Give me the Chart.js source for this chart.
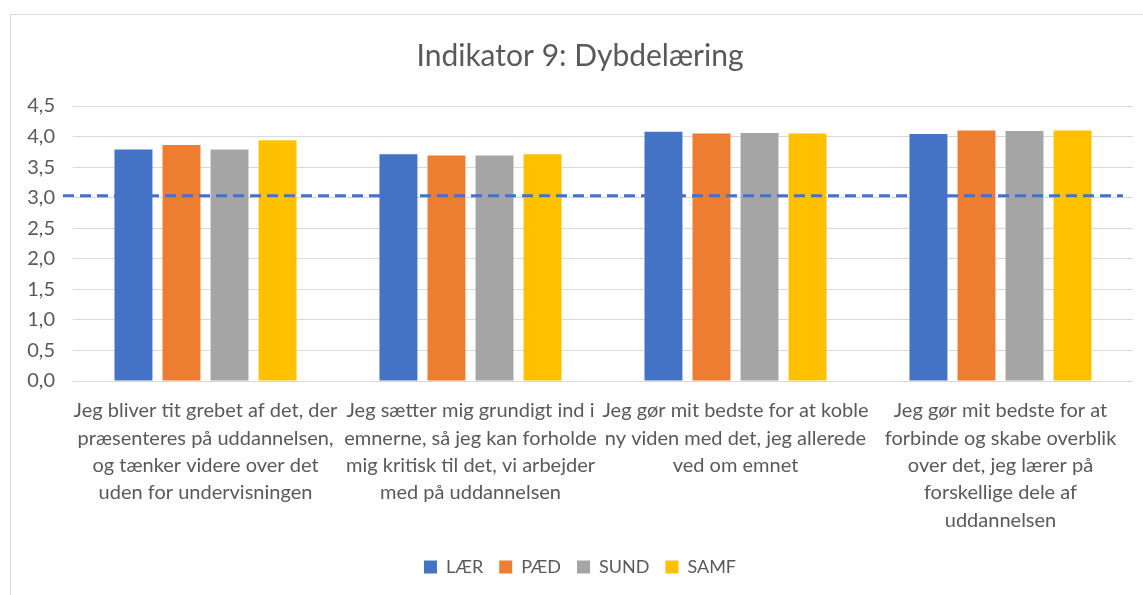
<!DOCTYPE html>
<html lang="da">
<head>
<meta charset="UTF-8">
<title>Indikator 9: Dybdelæring</title>
<script src="https://cdn.jsdelivr.net/npm/chart.js"></script>
<style>
  html, body { margin: 0; padding: 0; background: #fff; }
  #wrap {
    position: absolute; left: 10px; top: 14px;
    width: 1133px; height: 581px;
    border-left: 1px solid #d9d9d9; border-top: 1px solid #d9d9d9;
  }
</style>
</head>
<body>
<div id="wrap"><canvas id="chart"></canvas></div>
<script>
// data
const categories = [
  ["Jeg bliver tit grebet af det, der", "præsenteres på uddannelsen,", "og tænker videre over det", "uden for undervisningen"],
  ["Jeg sætter mig grundigt ind i", "emnerne, så jeg kan forholde", "mig kritisk til det, vi arbejder", "med på uddannelsen"],
  ["Jeg gør mit bedste for at koble", "ny viden med det, jeg allerede", "ved om emnet"],
  ["Jeg gør mit bedste for at", "forbinde og skabe overblik", "over det, jeg lærer på", "forskellige dele af", "uddannelsen"]
];
const seriesNames = ["LÆR", "PÆD", "SUND", "SAMF"];
const laer = [3.79, 3.71, 4.08, 4.04];
const paed = [3.86, 3.69, 4.05, 4.10];
const sund = [3.79, 3.69, 4.06, 4.09];
const samf = [3.94, 3.71, 4.05, 4.10];
const refLevel = 3.03;
const yTicksMax = 4.5;

const colors = ["#4472C4", "#ED7D31", "#A5A5A5", "#FFC000"];
const textColor = "#595959";
const fontFamily = "Lato, 'Open Sans', sans-serif";

// dashed reference line, placed through the y scale
const refLine = {
  id: "refLine",
  afterDatasetsDraw(chart) {
    const y = chart.scales.y.getPixelForValue(refLevel);
    const a = chart.chartArea;
    const ctx = chart.ctx;
    ctx.save();
    ctx.strokeStyle = "#4472C4";
    ctx.lineWidth = 3;
    ctx.setLineDash([11, 6]);
    ctx.beginPath();
    ctx.moveTo(a.left - 10, y);
    ctx.lineTo(a.right - 10, y);
    ctx.stroke();
    ctx.restore();
  }
};

const series = [laer, paed, sund, samf];
new Chart(document.getElementById("chart"), {
  type: "bar",
  data: {
    labels: categories,
    datasets: series.map((d, i) => ({
      label: seriesNames[i],
      data: d,
      backgroundColor: colors[i],
      borderWidth: 0,
      categoryPercentage: 0.725,
      barPercentage: 0.79
    }))
  },
  options: {
    responsive: true,
    maintainAspectRatio: false,
    animation: false,
    layout: { padding: { left: 16, right: 11, top: 0, bottom: 10 } },
    plugins: {
      title: {
        display: true,
        text: "Indikator 9: Dybdelæring",
        color: textColor,
        font: { family: fontFamily, size: 30, weight: "normal" },
        padding: { top: 23, bottom: 32 }
      },
      legend: {
        position: "bottom",
        labels: {
          color: textColor,
          font: { family: fontFamily, size: 18 },
          boxWidth: 13,
          boxHeight: 13,
          padding: 16
        }
      },
      tooltip: { enabled: false }
    },
    scales: {
      x: {
        afterFit(scale) { scale.height = 161; },
        grid: { display: false },
        border: { display: false },
        ticks: {
          color: textColor,
          font: { family: fontFamily, size: 20, lineHeight: 1.37 },
          maxRotation: 0,
          autoSkip: false,
          padding: 8
        }
      },
      y: {
        min: 0,
        max: yTicksMax,
        afterFit(scale) { scale.width = 46; },
        grid: { color: "#d9d9d9", lineWidth: 1, drawTicks: false },
        border: { display: false },
        ticks: {
          stepSize: 0.5,
          color: textColor,
          font: { family: fontFamily, size: 20 },
          padding: 18,
          callback: v => v.toFixed(1).replace(".", ",")
        }
      }
    }
  },
  plugins: [refLine]
});
</script>
</body>
</html>
